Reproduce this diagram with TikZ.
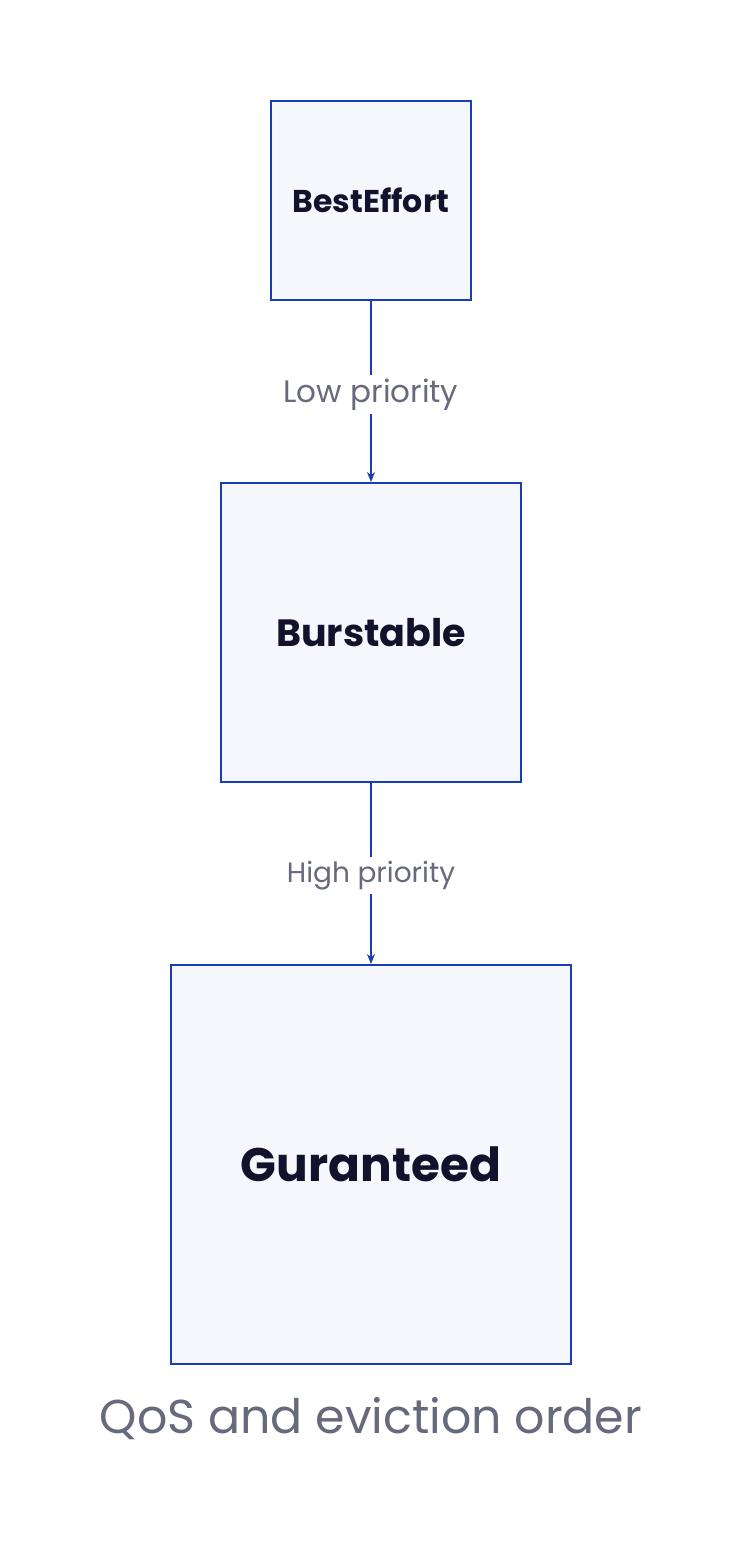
\documentclass[tikz,border=0pt]{standalone}
\usepackage{fontspec}
\setmainfont{Poppins}
\usetikzlibrary{arrows.meta}
\definecolor{boxline}{HTML}{1A3DB5}
\definecolor{boxfill}{HTML}{F5F7FC}
\definecolor{txtdark}{HTML}{11122B}
\definecolor{txtgray}{HTML}{666A7C}
\tikzset{
  qbox/.style={draw=boxline, fill=boxfill, line width=2pt, inner sep=0pt, text=txtdark},
  conn/.style={draw=boxline, line width=1.4pt, -{Stealth[length=10pt,width=8pt]}},
  lbl/.style={fill=white, text=txtgray, inner sep=4pt},
}
\begin{document}
\begin{tikzpicture}[x=1pt,y=-1pt]
\useasboundingbox (0,0) rectangle (742,1556);
\node[qbox, minimum width=200pt, minimum height=199pt, font=\fontsize{31.5}{36}\selectfont\bfseries] (be) at (371,200.5) {BestEffort};
\node[qbox, minimum width=300pt, minimum height=299pt, font=\fontsize{38}{44}\selectfont\bfseries] (bu) at (371,632.5) {Burstable};
\node[qbox, minimum width=400pt, minimum height=399pt, font=\fontsize{47}{54}\selectfont\bfseries] (gu) at (371,1164.5) {Guranteed};
\draw[conn] (be.south) -- node[lbl, font=\fontsize{31}{36}\selectfont, yshift=-3pt] {Low priority} (bu.north);
\draw[conn] (bu.south) -- node[lbl, font=\fontsize{28}{34}\selectfont, yshift=-2pt] {High priority} (gu.north);
\node[text=txtgray, font=\fontsize{47.5}{54}\selectfont, anchor=center] (title) at (371,1419) {QoS and eviction order};
\end{tikzpicture}
\end{document}
